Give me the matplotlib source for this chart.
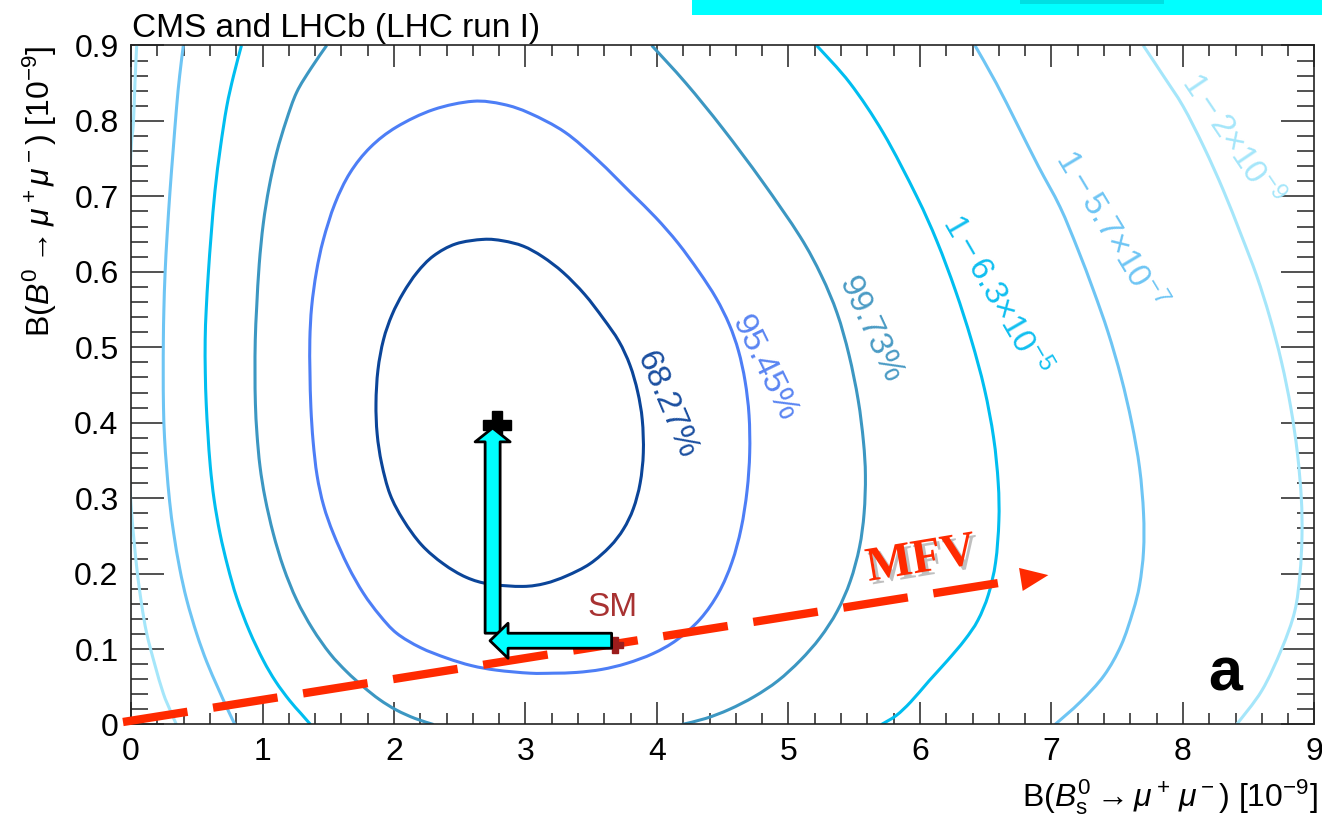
import matplotlib
matplotlib.use('Agg')
import numpy as np
import matplotlib.pyplot as plt
import matplotlib.patheffects as pe
from matplotlib.patches import FancyArrowPatch, Rectangle, ArrowStyle, PathPatch
from matplotlib.path import Path
from matplotlib.ticker import MultipleLocator

plt.rcParams['font.family'] = ['Liberation Sans', 'DejaVu Sans']
plt.rcParams['mathtext.fontset'] = 'custom'
plt.rcParams['mathtext.rm'] = 'Liberation Sans'
plt.rcParams['mathtext.it'] = 'Liberation Sans:italic'
plt.rcParams['mathtext.bf'] = 'Liberation Sans:bold'

# contour lines, (B_s, B0) in units of 1e-9
c68 = [(2.68, 0.643), (2.47, 0.637), (2.30, 0.621), (2.175, 0.599), (2.07, 0.572),
       (1.985, 0.543), (1.92, 0.510), (1.878, 0.470), (1.863, 0.426), (1.872, 0.385),
       (1.906, 0.346), (1.97, 0.305), (2.071, 0.271), (2.21, 0.238), (2.375, 0.213),
       (2.55, 0.195), (2.73, 0.186), (2.98, 0.183), (3.15, 0.187), (3.313, 0.197),
       (3.49, 0.213), (3.643, 0.236), (3.745, 0.259), (3.82, 0.286), (3.872, 0.320),
       (3.896, 0.360), (3.888, 0.404), (3.853, 0.441), (3.795, 0.476), (3.71, 0.508),
       (3.592, 0.538), (3.45, 0.570), (3.287, 0.599), (3.13, 0.620), (2.983, 0.634),
       (2.83, 0.641), (2.68, 0.643)]
c95 = [(2.60, 0.826), (2.30, 0.815), (2.02, 0.792), (1.82, 0.765), (1.665, 0.731),
       (1.55, 0.690), (1.462, 0.642), (1.41, 0.600), (1.374, 0.554), (1.36, 0.510),
       (1.361, 0.466), (1.368, 0.420), (1.385, 0.375), (1.415, 0.330), (1.465, 0.290),
       (1.539, 0.253), (1.65, 0.210), (1.767, 0.174), (1.89, 0.145), (2.02, 0.121),
       (2.20, 0.102), (2.401, 0.088), (2.59, 0.078), (2.781, 0.072), (3.034, 0.068),
       (3.21, 0.068), (3.389, 0.069), (3.58, 0.073), (3.77, 0.081), (3.97, 0.094),
       (4.15, 0.112), (4.33, 0.140), (4.47, 0.175), (4.57, 0.215), (4.64, 0.260),
       (4.685, 0.310), (4.705, 0.360), (4.70, 0.410), (4.67, 0.455), (4.62, 0.495),
       (4.55, 0.530), (4.45, 0.565), (4.32, 0.600), (4.16, 0.638), (3.99, 0.672),
       (3.80, 0.705), (3.55, 0.748), (3.30, 0.785), (3.034, 0.810), (2.83, 0.822),
       (2.60, 0.826)]
c997_left = [(1.488, 0.9), (1.37, 0.870), (1.26, 0.838), (1.18, 0.800), (1.108, 0.758),
             (1.05, 0.712), (1.006, 0.664), (0.975, 0.610), (0.956, 0.554), (0.945, 0.510),
             (0.943, 0.466), (0.946, 0.425), (0.958, 0.385), (0.981, 0.342), (1.02, 0.300),
             (1.082, 0.253), (1.16, 0.208), (1.26, 0.165), (1.38, 0.127), (1.513, 0.094),
             (1.64, 0.070), (1.767, 0.050), (1.89, 0.033), (2.02, 0.019), (2.16, 0.008),
             (2.30, 0.0)]
c997_right = [(3.96, 0.9), (4.22, 0.850), (4.50, 0.790), (4.80, 0.720), (5.087, 0.647),
              (5.25, 0.595), (5.37, 0.545), (5.46, 0.490), (5.53, 0.430), (5.57, 0.375),
              (5.585, 0.330), (5.575, 0.280), (5.54, 0.235), (5.47, 0.190), (5.37, 0.150),
              (5.24, 0.115), (5.09, 0.085), (4.92, 0.058), (4.74, 0.037), (4.55, 0.020),
              (4.37, 0.008), (4.19, 0.0)]
c63_left = [(0.84, 0.9), (0.78, 0.860), (0.728, 0.819), (0.68, 0.765), (0.639, 0.708),
            (0.61, 0.650), (0.588, 0.598), (0.572, 0.550), (0.564, 0.510), (0.565, 0.466),
            (0.572, 0.425), (0.585, 0.385), (0.603, 0.342), (0.632, 0.298), (0.677, 0.253),
            (0.735, 0.210), (0.804, 0.168), (0.90, 0.124), (1.006, 0.085), (1.10, 0.057),
            (1.205, 0.032), (1.29, 0.015), (1.365, 0.0)]
c63_right = [(5.214, 0.9), (5.468, 0.850), (5.721, 0.784), (5.975, 0.700), (6.13, 0.640),
             (6.27, 0.575), (6.39, 0.510), (6.49, 0.445), (6.56, 0.380), (6.595, 0.320),
             (6.60, 0.270), (6.575, 0.215), (6.52, 0.172), (6.44, 0.138), (6.34, 0.112),
             (6.21, 0.085), (6.07, 0.058), (5.93, 0.030), (5.82, 0.012), (5.707, 0.0)]
c57_left = [(0.398, 0.9), (0.37, 0.860), (0.347, 0.819), (0.32, 0.760), (0.297, 0.708),
            (0.275, 0.650), (0.259, 0.598), (0.25, 0.550), (0.246, 0.510), (0.245, 0.466),
            (0.247, 0.421), (0.255, 0.380), (0.271, 0.340), (0.294, 0.295), (0.325, 0.253),
            (0.37, 0.207), (0.424, 0.165), (0.50, 0.120), (0.576, 0.083), (0.66, 0.049),
            (0.735, 0.020), (0.79, 0.0)]
c57_right = [(6.418, 0.9), (6.58, 0.850), (6.735, 0.797), (6.90, 0.740), (7.065, 0.686),
             (7.20, 0.630), (7.32, 0.575), (7.43, 0.520), (7.53, 0.460), (7.61, 0.400),
             (7.67, 0.340), (7.70, 0.280), (7.70, 0.230), (7.67, 0.185), (7.62, 0.150),
             (7.53, 0.105), (7.40, 0.065), (7.22, 0.030), (7.027, 0.0)]
c2_left = [(0.043, 0.9), (0.03, 0.850), (0.018, 0.797), (0.0, 0.760), (-0.02, 0.650),
           (-0.03, 0.500), (-0.02, 0.360), (0.005, 0.280), (0.043, 0.209), (0.08, 0.160),
           (0.119, 0.121), (0.18, 0.080), (0.246, 0.041), (0.30, 0.018), (0.345, 0.0)]
c2_right = [(7.698, 0.9), (7.85, 0.860), (8.002, 0.819), (8.16, 0.765), (8.307, 0.708),
            (8.44, 0.650), (8.56, 0.595), (8.66, 0.540), (8.75, 0.480), (8.82, 0.420),
            (8.87, 0.360), (8.90, 0.300), (8.905, 0.250), (8.89, 0.200), (8.85, 0.150),
            (8.75, 0.100), (8.60, 0.045), (8.408, 0.0)]

level_names = ['68.27%', '95.45%', '99.73%', r'$1-6.3$×10$^{-5}$',
               r'$1-5.7$×10$^{-7}$', r'$1-2$×10$^{-9}$']

best_fit = (2.78, 0.397)
sm_point = (3.66, 0.111)
mfv_x = [-0.061, 6.976]
mfv_y = [0.0033, 0.198]

xticks = [0, 1, 2, 3, 4, 5, 6, 7, 8, 9]
xtick_labels = ['0', '1', '2', '3', '4', '5', '6', '7', '8', '9']
yticks = [0, 0.1, 0.2, 0.3, 0.4, 0.5, 0.6, 0.7, 0.8, 0.9]
ytick_labels = ['0', '0.1', '0.2', '0.3', '0.4', '0.5', '0.6', '0.7', '0.8', '0.9']

# colours of the six levels
col = ['#0b4599', '#4d7ef6', '#3c97c2', '#00bef0', '#6ec5f4', '#a5e6fa']


def smooth_path(pts, closed=False):
    # cubic bezier through the read points (catmull-rom tangents)
    p = np.asarray(pts, float)
    if closed:
        p = p[:-1]
    n = len(p)
    if closed:
        get = lambda i: p[i % n]
        segs = range(n)
    else:
        get = lambda i: p[min(max(i, 0), n - 1)]
        segs = range(n - 1)
    verts = [get(0)]
    codes = [Path.MOVETO]
    for i in segs:
        p0, p1, p2, p3 = get(i - 1), get(i), get(i + 1), get(i + 2)
        verts += [p1 + (p2 - p0) / 6, p2 - (p3 - p1) / 6, p2]
        codes += [Path.CURVE4] * 3
    return Path(verts, codes)


fig = plt.figure(figsize=(13.22, 8.19), dpi=100)
ax = fig.add_axes([0.0991, 0.1154, 0.8952, 0.8291])

curves = [(c68, 0, True), (c95, 1, True), (c997_left, 2, False), (c997_right, 2, False),
          (c63_left, 3, False), (c63_right, 3, False), (c57_left, 4, False),
          (c57_right, 4, False), (c2_left, 5, False), (c2_right, 5, False)]
for pts, k, closed in curves:
    ax.add_patch(PathPatch(smooth_path(pts, closed), fill=False, edgecolor=col[k],
                           lw=2.2, zorder=2))

# labels along the curves
lab_pos = [(4.07, 0.424, -67), (4.81, 0.472, -64), (5.62, 0.523, -65),
           (6.57, 0.569, -60), (7.445, 0.655, -59), (8.365, 0.775, -56)]
lab_col = ['#1b4fa0', '#5a85f2', '#4a9bc4', '#10bff0', '#6ec5f4', '#a5e6fa']
for (lx, ly, rot), name, c in zip(lab_pos, level_names, lab_col):
    ax.text(lx, ly, name, rotation=rot, rotation_mode='anchor', ha='center',
            va='center', color=c, fontsize=24, zorder=3)

ax.set_xlim(0, 9)
ax.set_ylim(0, 0.9)

# MFV dashed arrow
red = '#ff2a00'
tip = ax.transData.transform((mfv_x[1], mfv_y[1]))
start = ax.transData.transform((mfv_x[0], mfv_y[0]))
d = (tip - start) / np.hypot(*(tip - start))
base = ax.transData.inverted().transform(tip - 27 * d)
ax.plot([mfv_x[0], base[0]], [mfv_y[0], base[1]], color=red, lw=6,
        ls=(0, (7.84, 3.1)), dash_capstyle='butt', clip_on=False, zorder=3)
ax.annotate('', xy=(mfv_x[1], mfv_y[1]), xytext=base, annotation_clip=False,
            arrowprops=dict(arrowstyle='-|>,head_length=1.0,head_width=0.42',
                            mutation_scale=20, color=red, lw=0,
                            shrinkA=0, shrinkB=0), zorder=3)
ax.text(6.01, 0.218, 'MFV', color=red, fontsize=35, fontweight='bold',
        family='Liberation Serif', rotation=9.5, rotation_mode='anchor',
        ha='center', va='center', zorder=4,
        path_effects=[pe.withSimplePatchShadow(offset=(2.5, -2.5),
                                                shadow_rgbFace='0.45', alpha=0.45)])

# SM and best fit
ax.plot(sm_point[0] + 0.02, sm_point[1] - 0.005, marker='P', ms=11,
        color='#9b1c1c', zorder=4)
ax.text(3.66, 0.1545, 'SM', color='#a83232', fontsize=24, ha='center',
        va='center', zorder=4)
ax.plot(*best_fit, marker='P', ms=20, color='black', mec='black', zorder=5)

cyan = '#00ffff'
up = FancyArrowPatch((2.75, 0.121), (2.75, best_fit[1] - 0.004),
                     arrowstyle=ArrowStyle.Simple(head_length=0.5, head_width=1.26,
                                                  tail_width=0.54),
                     mutation_scale=20, fc=cyan, ec='black', lw=2,
                     shrinkA=0, shrinkB=0, zorder=6)
ax.add_patch(up)
left = FancyArrowPatch((sm_point[0] - 0.005, sm_point[1]), (2.73, sm_point[1]),
                       arrowstyle=ArrowStyle.Simple(head_length=0.65, head_width=1.26,
                                                    tail_width=0.54),
                       mutation_scale=20, fc=cyan, ec='black', lw=2,
                       shrinkA=0, shrinkB=0, zorder=7)
ax.add_patch(left)

ax.text(8.32, 0.066, 'a', fontsize=44, fontweight='bold', ha='center',
        va='center', zorder=5)

# axes in ROOT style
ax.set_xticks(xticks)
ax.set_xticklabels(xtick_labels)
ax.set_yticks(yticks)
ax.set_yticklabels(ytick_labels)
ax.xaxis.set_minor_locator(MultipleLocator(0.2))
ax.yaxis.set_minor_locator(MultipleLocator(0.02))
ax.tick_params(which='both', direction='in', top=True, right=True,
               color='#222222', width=1.1, labelsize=23)
ax.tick_params(axis='x', which='major', length=16, pad=9)
ax.tick_params(axis='x', which='minor', length=8)
ax.tick_params(axis='y', which='major', length=24, pad=9)
ax.tick_params(axis='y', which='minor', length=12)
for s in ax.spines.values():
    s.set_linewidth(1.2)
    s.set_color('#222222')

ax.set_xlabel(r'B($B^0_\mathrm{s} \rightarrow \mu^+\,\mu^-$) [$10^{-9}$]',
              fontsize=23, ha='right', va='center')
ax.xaxis.set_label_coords(1.003, -0.107)
ax.set_ylabel(r'B($B^0 \rightarrow \mu^+\mu^-$) [$10^{-9}$]',
              fontsize=23, ha='right', va='center')
ax.yaxis.set_label_coords(-0.077, 1.0)

fig.text(132 / 1322, 1 - 37 / 819, 'CMS and LHCb (LHC run I)', fontsize=24,
         ha='left', va='baseline')

# cyan strip at the top edge of the slide
fig.add_artist(Rectangle((692 / 1322, 1 - 15 / 819), 1 - 692 / 1322, 15 / 819,
                         transform=fig.transFigure, color=cyan, lw=0))
fig.add_artist(Rectangle((1020 / 1322, 1 - 4 / 819), 144 / 1322, 4 / 819,
                         transform=fig.transFigure, color='#00d2d6', lw=0, alpha=0.7))

fig.savefig('out.png', dpi=100)
